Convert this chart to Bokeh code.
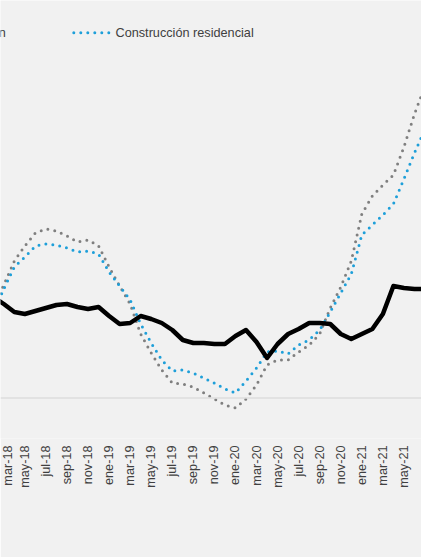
import math
from bokeh.plotting import figure
from bokeh.models import Range1d, FixedTicker, Span, Label
from bokeh.embed import file_html
from bokeh.resources import INLINE

# ---- data (monthly, feb-18 .. jul-21) ----
months = ["feb-18", "mar-18", "abr-18", "may-18", "jun-18", "jul-18", "ago-18", "sep-18",
          "oct-18", "nov-18", "dic-18", "ene-19", "feb-19", "mar-19", "abr-19", "may-19",
          "jun-19", "jul-19", "ago-19", "sep-19", "oct-19", "nov-19", "dic-19", "ene-20",
          "feb-20", "mar-20", "abr-20", "may-20", "jun-20", "jul-20", "ago-20", "sep-20",
          "oct-20", "nov-20", "dic-20", "ene-21", "feb-21", "mar-21", "abr-21", "may-21",
          "jun-21", "jul-21"]

construccion = [10.1, 9.4, 8.6, 8.4, 8.7, 9.0, 9.3, 9.4, 9.1, 8.9, 9.1, 8.2, 7.4, 7.5,
                8.2, 7.9, 7.5, 6.8, 5.8, 5.5, 5.5, 5.4, 5.4, 6.2, 6.8, 5.6, 4.0, 5.4,
                6.4, 6.9, 7.5, 7.5, 7.4, 6.4, 5.9, 6.4, 6.9, 8.4, 11.2, 11.0, 10.9, 10.9]

residencial = [8.5, 10.9, 13.1, 14.1, 15.2, 15.4, 15.3, 15.0, 14.6, 14.7, 14.4, 12.6, 11.2, 9.8,
               7.4, 5.5, 3.8, 2.7, 2.8, 2.5, 2.0, 1.5, 0.9, 0.5, 1.7, 3.0, 4.6, 4.7,
               4.4, 5.3, 5.8, 6.8, 8.6, 10.5, 12.4, 16.3, 17.3, 18.3, 19.4, 21.9, 24.5, 26.9]

edificacion = [9.2, 11.3, 13.7, 15.2, 16.5, 16.9, 16.7, 16.2, 15.6, 15.8, 15.2, 13.1, 11.2, 9.4,
               6.4, 4.5, 2.8, 1.5, 1.4, 1.1, 0.5, -0.1, -0.7, -1.0, -0.1, 1.3, 3.3, 3.8,
               3.8, 4.6, 5.3, 6.4, 9.0, 11.1, 13.7, 18.4, 20.2, 21.3, 22.3, 25.1, 28.4, 31.2]

legend_labels = ["Construcción", "Construcción residencial"]

x = list(range(len(months)))

# ---- layout helpers (page pixel -> data) ----
PX0, PXM = 3.3, 10.53          # page x of mar-18 and px per month
def px2x(px):
    return 1 + (px - PX0) / PXM
def py2y(py):
    return (397.5 - py) / 10.0

W, H = 421, 557
FRAME_BOTTOM = 438
p = figure(width=W, height=H, output_backend="svg", toolbar_location=None,
           x_range=Range1d(px2x(0), px2x(W)),
           y_range=Range1d(py2y(FRAME_BOTTOM), py2y(0)),
           y_axis_location=None,
           min_border_left=0, min_border_right=0, min_border_top=0,
           min_border_bottom=H - FRAME_BOTTOM)

bg = "#f1f1f1"
p.background_fill_color = bg
p.border_fill_color = bg
p.outline_line_color = None
p.xgrid.visible = False
p.ygrid.visible = False

# zero line
p.add_layout(Span(location=0, dimension="width", line_color="#dcdcdc", line_width=1.5))

p.line(x, edificacion, line_color="#7f7f7f", line_width=3, line_dash="0 7", line_cap="round")
p.line(x, residencial, line_color="#1e9fd9", line_width=3, line_dash="0 7", line_cap="round")
p.line(x, construccion, line_color="#000000", line_width=4.5, line_join="round", line_cap="round")

# legend (manual)
LEG_Y = py2y(32.3)
p.add_layout(Label(x=px2x(5.3), y=LEG_Y, text=legend_labels[0], text_font="Liberation Sans",
                   text_font_size="12.7px", text_color="#404040", text_baseline="middle",
                   text_align="right"))
p.line([px2x(73.3), px2x(109.3)], [LEG_Y, LEG_Y], line_color="#1e9fd9",
       line_width=3, line_dash="0 7", line_cap="round")
p.add_layout(Label(x=px2x(115), y=LEG_Y, text=legend_labels[1], text_font="Liberation Sans",
                   text_font_size="12.7px", text_color="#404040", text_baseline="middle",
                   text_align="left"))

# x axis
ax = p.xaxis[0]
ax.ticker = FixedTicker(ticks=list(range(1, len(months), 2)))
ax.major_label_overrides = {i: months[i] for i in range(1, len(months), 2)}
ax.major_label_orientation = math.pi / 2
ax.major_label_text_font = "Liberation Sans"
ax.major_label_text_font_size = "12.7px"
ax.major_label_text_color = "#404040"
ax.major_label_standoff = 7
ax.major_tick_in = 0
ax.major_tick_out = 0
ax.major_tick_line_color = None
ax.minor_tick_line_color = None
ax.axis_line_color = None

open("out.html", "w").write(file_html(p, INLINE))
